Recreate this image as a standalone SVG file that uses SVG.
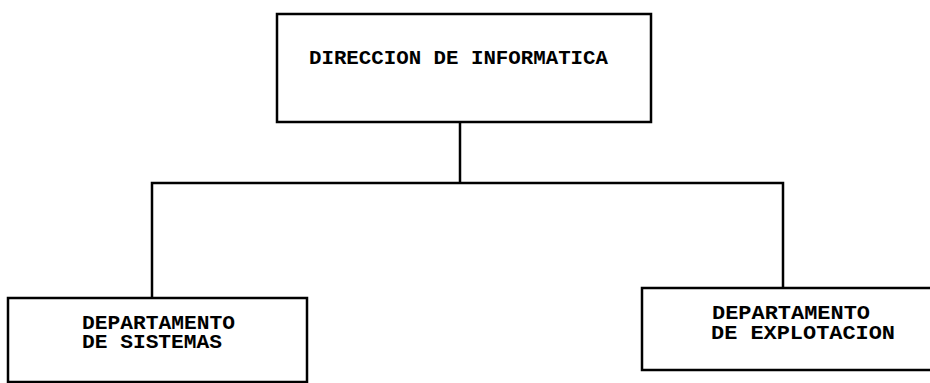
<svg xmlns="http://www.w3.org/2000/svg" width="930" height="383" viewBox="0 0 930 383">
<style>
.box{fill:#fff;stroke:#000;stroke-width:2.5}
.conn{fill:none;stroke:#000;stroke-width:2.5}
.lbl{font-family:"Liberation Mono","DejaVu Sans Mono",monospace;font-size:21px;font-weight:bold;fill:#000}
</style>
<rect width="930" height="383" fill="#fff"/>
<g id="connectors">
<path class="conn" d="M460,121 V183"/>
<path class="conn" d="M152,298 V183 H783 V288"/>
</g>
<g id="direccion">
<rect class="box" x="277" y="14" width="374" height="108"/>
<text class="lbl" x="309" y="64" textLength="299" lengthAdjust="spacingAndGlyphs">DIRECCION DE INFORMATICA</text>
</g>
<g id="sistemas">
<rect class="box" x="8" y="298" width="299" height="84"/>
<text class="lbl" x="82" y="329" textLength="153" lengthAdjust="spacingAndGlyphs">DEPARTAMENTO</text>
<text class="lbl" x="82" y="348" textLength="140" lengthAdjust="spacingAndGlyphs">DE SISTEMAS</text>
</g>
<g id="explotacion">
<rect class="box" x="642" y="288" width="292" height="82"/>
<text class="lbl" x="712" y="319" textLength="158" lengthAdjust="spacingAndGlyphs">DEPARTAMENTO</text>
<text class="lbl" x="711" y="339" textLength="184" lengthAdjust="spacingAndGlyphs">DE EXPLOTACION</text>
</g>
</svg>
